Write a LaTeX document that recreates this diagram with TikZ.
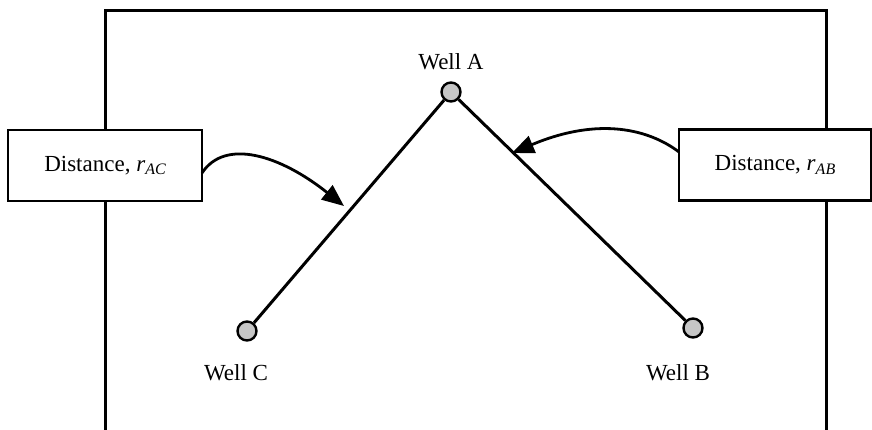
\documentclass[tikz,border=0pt]{standalone}
\usepackage{fontspec}
\setmainfont{Liberation Serif}
\usetikzlibrary{arrows.meta}
\tikzset{
  frameline/.style={line width=3pt, line cap=rect},
  distbox/.style={draw, fill=white, line width=2.8pt, inner sep=0pt, minimum height=71pt, font=\fontsize{23}{23}\selectfont},
  well/.style={circle, draw, line width=2.4pt, fill=gray!45, minimum size=19pt, inner sep=0pt},
  link/.style={line width=3pt},
  wlabel/.style={font=\fontsize{23}{23}\selectfont, inner sep=0pt, anchor=base},
  pointer/.style={line width=2.8pt, -{Triangle[length=22pt,width=18pt]}},
}
\newcommand{\rsub}[1]{\textit{r}\raisebox{-0.35ex}{\fontsize{16}{16}\selectfont\itshape #1}}
\begin{document}
\begin{tikzpicture}[x=1pt,y=-1pt]
\useasboundingbox (0,0) rectangle (872,430);
% open frame
\coordinate (fbl) at (105,432);
\coordinate (ftl) at (105,11);
\coordinate (ftr) at (826,11);
\coordinate (fbr) at (826,432);
\draw[frameline] (fbl) -- (ftl) -- (ftr) -- (fbr);
% wells
\node[well] (wa) at (451,92) {};
\node[well] (wc) at (247,331) {};
\node[well] (wb) at (693,328) {};
\draw[link] (wa) -- (wc);
\draw[link] (wa) -- (wb);
% labels
\node[wlabel] (la) at (451,70) {Well A};
\node[wlabel] (lc) at (236,380) {Well C};
\node[wlabel] (lb) at (678,380) {Well B};
% distance boxes
\node[distbox, minimum width=194pt] (bl) at (105,165.5) {Distance, \rsub{AC}};
\node[distbox, minimum width=192pt] (br) at (775,165) {Distance, \rsub{AB}};
% arrows
\coordinate (sl) at (202,173);
\coordinate (tl) at (344,206);
\coordinate (sr) at (679,152);
\coordinate (tr) at (512,153);
\draw[pointer] (sl) .. controls (225,138) and (280,155) .. (tl);
\draw[pointer] (sr) .. controls (650,130) and (600,116) .. (tr);
\end{tikzpicture}
\end{document}
